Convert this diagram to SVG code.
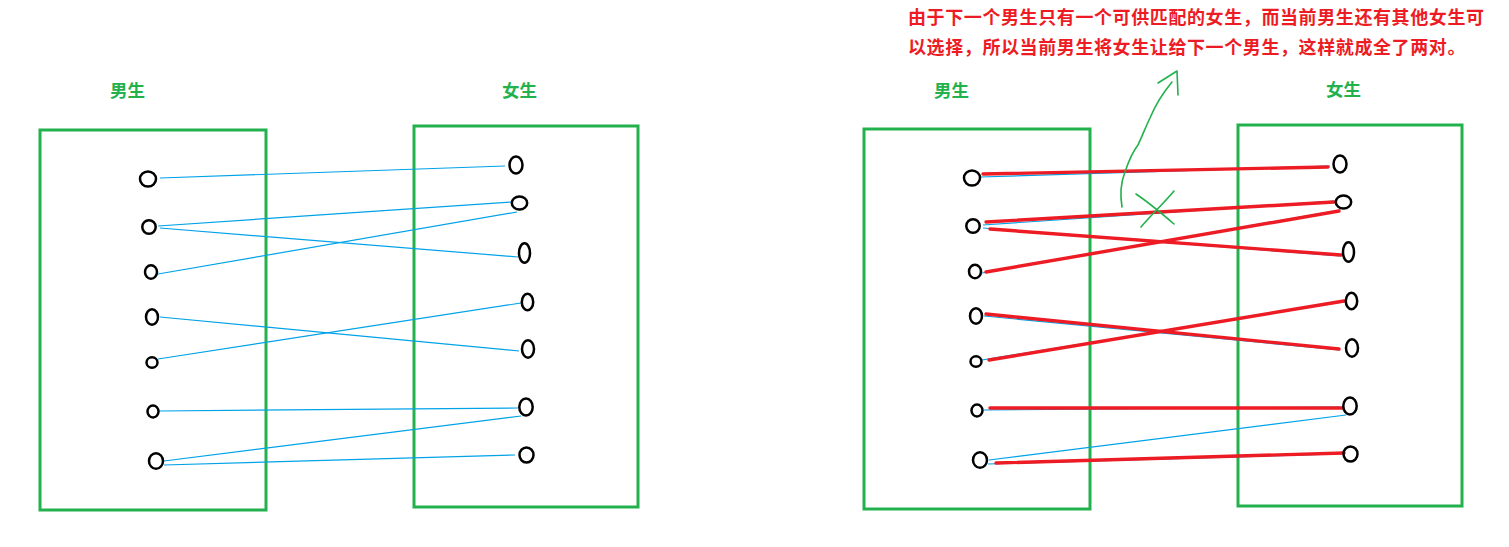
<svg xmlns="http://www.w3.org/2000/svg" width="1509" height="547" viewBox="0 0 1509 547">
<style>
.box{fill:none;stroke:#22b14c;stroke-width:3}
.node ellipse{fill:none;stroke:#000;stroke-width:2.5}
.lbl{font-family:"Liberation Sans","Noto Sans CJK SC",sans-serif;font-weight:bold;font-size:17.5px;fill:#22b14c}
.note{font-family:"Liberation Sans","Noto Sans CJK SC",sans-serif;font-weight:bold;font-size:18px;fill:#ed1c24;letter-spacing:0.6px}
.blue line{stroke:#00a2e8;stroke-width:1.2}
.red line{stroke:#ed1c24;stroke-width:3.4;stroke-linecap:round}
.mark{fill:none;stroke:#22b14c;stroke-width:1.6;stroke-linecap:round;stroke-linejoin:round}
</style>
<rect width="1509" height="547" fill="#fff"/>

<!-- Left panel -->
<g id="left-panel">
  <rect class="box" x="40" y="130" width="226" height="380"/>
  <rect class="box" x="414" y="126" width="224" height="381"/>
  <text class="lbl" x="110" y="97">男生</text>
  <text class="lbl" x="502" y="97">女生</text>
  <g id="L-connectors" class="blue">
    <line x1="160" y1="178" x2="505" y2="166"/>
    <line x1="158" y1="226" x2="511" y2="202"/>
    <line x1="160" y1="228" x2="518" y2="257"/>
    <line x1="158" y1="274" x2="517" y2="212"/>
    <line x1="160" y1="317" x2="519" y2="351"/>
    <line x1="158" y1="359" x2="521" y2="303"/>
    <line x1="159" y1="411" x2="518" y2="408"/>
    <line x1="164" y1="461" x2="521" y2="416"/>
    <line x1="164" y1="465" x2="515" y2="455"/>
  </g>
  <g id="L-b1" class="node"><ellipse cx="148" cy="179" rx="8" ry="7.5"/></g>
  <g id="L-b2" class="node"><ellipse cx="149" cy="227" rx="6.7" ry="6.8"/></g>
  <g id="L-b3" class="node"><ellipse cx="151" cy="272" rx="6" ry="6.7"/></g>
  <g id="L-b4" class="node"><ellipse cx="152" cy="317" rx="6" ry="7.7"/></g>
  <g id="L-b5" class="node"><ellipse cx="152" cy="362.5" rx="5.5" ry="5.2"/></g>
  <g id="L-b6" class="node"><ellipse cx="153" cy="411.5" rx="5.5" ry="6"/></g>
  <g id="L-b7" class="node"><ellipse cx="156" cy="461" rx="7" ry="7.8"/></g>
  <g id="L-g1" class="node"><ellipse cx="516" cy="165" rx="6.5" ry="8.5"/></g>
  <g id="L-g2" class="node"><ellipse cx="519.5" cy="203" rx="7.7" ry="6.5"/></g>
  <g id="L-g3" class="node"><ellipse cx="524.5" cy="253" rx="5.5" ry="9.7"/></g>
  <g id="L-g4" class="node"><ellipse cx="527.5" cy="302" rx="5.7" ry="8.2"/></g>
  <g id="L-g5" class="node"><ellipse cx="528" cy="349" rx="6" ry="8.7"/></g>
  <g id="L-g6" class="node"><ellipse cx="526" cy="407" rx="6.7" ry="8.5"/></g>
  <g id="L-g7" class="node"><ellipse cx="526.5" cy="455" rx="7" ry="7.5"/></g>
</g>

<!-- Right panel -->
<g id="right-panel" transform="translate(824,-1)">
  <rect class="box" x="40" y="130" width="226" height="380"/>
  <rect class="box" x="414" y="126" width="224" height="381"/>
  <text class="lbl" x="110" y="98">男生</text>
  <text class="lbl" x="502" y="97">女生</text>
  <g id="R-connectors-blue" class="blue">
    <line x1="156" y1="178" x2="506" y2="167"/>
    <line x1="159" y1="226" x2="511" y2="202"/>
    <line x1="159" y1="229" x2="516" y2="257"/>
    <line x1="158" y1="274" x2="516" y2="211"/>
    <line x1="160" y1="317" x2="516" y2="351"/>
    <line x1="158" y1="361" x2="519" y2="303"/>
    <line x1="160" y1="411" x2="516" y2="408"/>
    <line x1="165" y1="461" x2="522" y2="416"/>
    <line x1="164" y1="465" x2="514" y2="455"/>
  </g>
  <g id="R-connectors-red" class="red">
    <line x1="159" y1="175" x2="504" y2="168"/>
    <line x1="162" y1="223" x2="510" y2="203"/>
    <line x1="166" y1="230" x2="517" y2="256"/>
    <line x1="162" y1="273" x2="515" y2="212"/>
    <line x1="162" y1="315" x2="515" y2="350"/>
    <line x1="165" y1="361" x2="520" y2="302"/>
    <line x1="166" y1="409" x2="518" y2="409"/>
    <line x1="172" y1="464" x2="520" y2="454"/>
  </g>
  <g id="R-b1" class="node"><ellipse cx="148" cy="179" rx="8" ry="7.5"/></g>
  <g id="R-b2" class="node"><ellipse cx="149" cy="227" rx="6.7" ry="6.8"/></g>
  <g id="R-b3" class="node"><ellipse cx="151" cy="272.5" rx="6" ry="6.7"/></g>
  <g id="R-b4" class="node"><ellipse cx="152" cy="317" rx="6" ry="7.7"/></g>
  <g id="R-b5" class="node"><ellipse cx="152" cy="362.5" rx="5.5" ry="5.2"/></g>
  <g id="R-b6" class="node"><ellipse cx="153" cy="411.5" rx="5.5" ry="6"/></g>
  <g id="R-b7" class="node"><ellipse cx="156" cy="461" rx="7" ry="7.8"/></g>
  <g id="R-g1" class="node"><ellipse cx="516" cy="165" rx="6.5" ry="8.5"/></g>
  <g id="R-g2" class="node"><ellipse cx="519.5" cy="203" rx="7.7" ry="6.5"/></g>
  <g id="R-g3" class="node"><ellipse cx="524.5" cy="253" rx="5.5" ry="9.7"/></g>
  <g id="R-g4" class="node"><ellipse cx="527.5" cy="302" rx="5.7" ry="8.2"/></g>
  <g id="R-g5" class="node"><ellipse cx="528" cy="349" rx="6" ry="8.7"/></g>
  <g id="R-g6" class="node"><ellipse cx="526" cy="407" rx="6.7" ry="8.5"/></g>
  <g id="R-g7" class="node"><ellipse cx="526.5" cy="455" rx="7" ry="7.5"/></g>
</g>

<!-- Annotation -->
<g id="annotation">
  <path class="mark" d="M1122,207 C1120,195 1121,182 1125,172 C1129,160 1134,150 1138,145 C1143,134 1147,124 1150,118 C1155,106 1162,94 1172,82"/>
  <path class="mark" d="M1158,83 L1177,71 L1178,95"/>
  <path class="mark" d="M1136,194 C1145,200 1160,212 1174,224"/>
  <path class="mark" d="M1174,191 C1164,203 1152,214 1141,227"/>
  <text class="note" x="908" y="24">由于下一个男生只有一个可供匹配的女生，而当前男生还有其他女生可</text>
  <text class="note" x="908" y="54">以选择，所以当前男生将女生让给下一个男生，这样就成全了两对。</text>
</g>
</svg>
